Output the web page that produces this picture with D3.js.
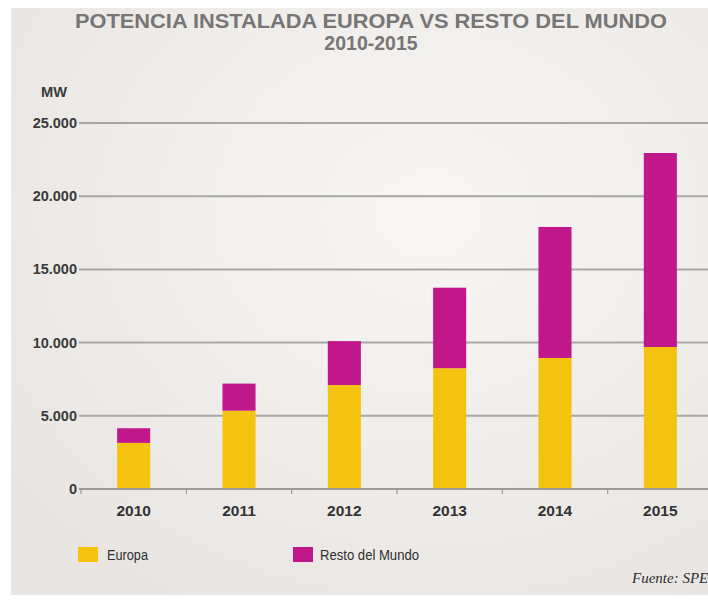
<!DOCTYPE html>
<html>
<head>
<meta charset="utf-8">
<script src="https://cdn.jsdelivr.net/npm/d3@7"></script>
<style>
  body { margin: 0; background: #fff; }
  text { font-family: "Liberation Sans", Arial, sans-serif; }
</style>
</head>
<body>
<script>
// datos (MW)
var years = ["2010", "2011", "2012", "2013", "2014", "2015"];
var europa = [3150, 5350, 7100, 8250, 8950, 9700];
var resto = [1000, 1850, 3000, 5500, 8950, 13250];
var yTicks = [0, 5000, 10000, 15000, 20000, 25000];
var seriesNames = ["Europa", "Resto del Mundo"];
var colors = ["#f4c30f", "#c0178b"];

var width = 708, height = 601;

var svg = d3.select("body").append("svg")
    .attr("width", width)
    .attr("height", height);

var defs = svg.append("defs");
var grad = defs.append("radialGradient")
    .attr("id", "bg")
    .attr("cx", "0.6").attr("cy", "0.35").attr("r", "0.75");
grad.append("stop").attr("offset", "0").attr("stop-color", "#f8f7f5");
grad.append("stop").attr("offset", "1").attr("stop-color", "#e8e5e2");

svg.append("rect")
    .attr("x", 11).attr("y", 8)
    .attr("width", width - 11).attr("height", 587)
    .attr("fill", "url(#bg)");

// titulo
svg.append("text")
    .attr("x", 371).attr("y", 28)
    .attr("text-anchor", "middle")
    .attr("textLength", 592)
    .attr("lengthAdjust", "spacingAndGlyphs")
    .style("font-weight", "bold")
    .style("font-size", "19.5px")
    .attr("fill", "#787575")
    .text("POTENCIA INSTALADA EUROPA VS RESTO DEL MUNDO");

svg.append("text")
    .attr("x", 371).attr("y", 50)
    .attr("text-anchor", "middle")
    .style("font-weight", "bold")
    .style("font-size", "19.5px")
    .attr("fill", "#787575")
    .text("2010-2015");

var x = d3.scaleBand()
    .domain(years)
    .range([81, 713])
    .paddingInner(0.686)
    .paddingOuter(0.343);

var y = d3.scaleLinear()
    .domain([0, 25000])
    .range([489, 123]);

var fmt = function(d) { return d3.format(",")(d).replace(/,/g, "."); };

// lineas de cuadricula
svg.append("g")
  .selectAll("line")
  .data(yTicks.filter(function(d) { return d > 0; }))
  .enter().append("line")
    .attr("x1", 79).attr("x2", width)
    .attr("y1", function(d) { return y(d); })
    .attr("y2", function(d) { return y(d); })
    .attr("stroke", "#a9a7a5")
    .attr("stroke-width", 2);

svg.append("g")
  .selectAll("text")
  .data(yTicks)
  .enter().append("text")
    .attr("x", 77)
    .attr("y", function(d) { return y(d) + 5; })
    .attr("text-anchor", "end")
    .style("font-size", "14.5px")
    .style("font-weight", "bold")
    .attr("fill", "#3a3a3a")
    .text(fmt);

svg.append("text")
    .attr("x", 41).attr("y", 97)
    .attr("textLength", 26)
    .attr("lengthAdjust", "spacingAndGlyphs")
    .style("font-size", "15px")
    .style("font-weight", "bold")
    .attr("fill", "#3a3a3a")
    .text("MW");

// barras apiladas
var rows = years.map(function(yr, i) {
  return { year: yr, Europa: europa[i], "Resto del Mundo": resto[i] };
});
var stack = d3.stack().keys(seriesNames)(rows);

svg.append("g")
  .selectAll("g")
  .data(stack)
  .enter().append("g")
    .attr("fill", function(d, i) { return colors[i]; })
  .selectAll("rect")
  .data(function(d) { return d; })
  .enter().append("rect")
    .attr("x", function(d) { return x(d.data.year); })
    .attr("y", function(d) { return y(d[1]); })
    .attr("width", x.bandwidth())
    .attr("height", function(d) { return y(d[0]) - y(d[1]); });

// eje x
svg.append("line")
    .attr("x1", 79).attr("x2", width)
    .attr("y1", y(0)).attr("y2", y(0))
    .attr("stroke", "#9d9b99")
    .attr("stroke-width", 2);

var tickXs = [x.range()[0]].concat(years.slice(1).map(function(d) {
  return x(d) - x.step() * x.paddingInner() / 2;
}));
svg.append("g")
  .selectAll("line")
  .data(tickXs)
  .enter().append("line")
    .attr("x1", function(d) { return d; })
    .attr("x2", function(d) { return d; })
    .attr("y1", y(0)).attr("y2", y(0) + 5)
    .attr("stroke", "#9d9b99")
    .attr("stroke-width", 1.2);

svg.append("g")
  .selectAll("text")
  .data(years)
  .enter().append("text")
    .attr("x", function(d) { return x(d) + x.bandwidth() / 2; })
    .attr("y", 516)
    .attr("text-anchor", "middle")
    .style("font-size", "15.5px")
    .style("font-weight", "bold")
    .attr("fill", "#333")
    .text(function(d) { return d; });

// leyenda
var legendX = [78, 293];
var legendW = [41, 99];
var legend = svg.append("g")
  .selectAll("g")
  .data(seriesNames)
  .enter().append("g")
    .attr("transform", function(d, i) { return "translate(" + legendX[i] + ",547)"; });
legend.append("rect")
    .attr("width", 20).attr("height", 15)
    .attr("fill", function(d, i) { return colors[i]; });
legend.append("text")
    .attr("x", function(d, i) { return i ? 27 : 29; })
    .attr("y", 13)
    .attr("textLength", function(d, i) { return legendW[i]; })
    .attr("lengthAdjust", "spacingAndGlyphs")
    .style("font-size", "14px")
    .attr("fill", "#2e2e2e")
    .text(function(d) { return d; });

// fuente
svg.append("text")
    .attr("x", 632).attr("y", 583)
    .style("font-family", "'Liberation Serif', 'Times New Roman', serif")
    .style("font-style", "italic")
    .style("font-size", "15px")
    .attr("fill", "#2e2e2e")
    .text("Fuente: SPE");
</script>
</body>
</html>
